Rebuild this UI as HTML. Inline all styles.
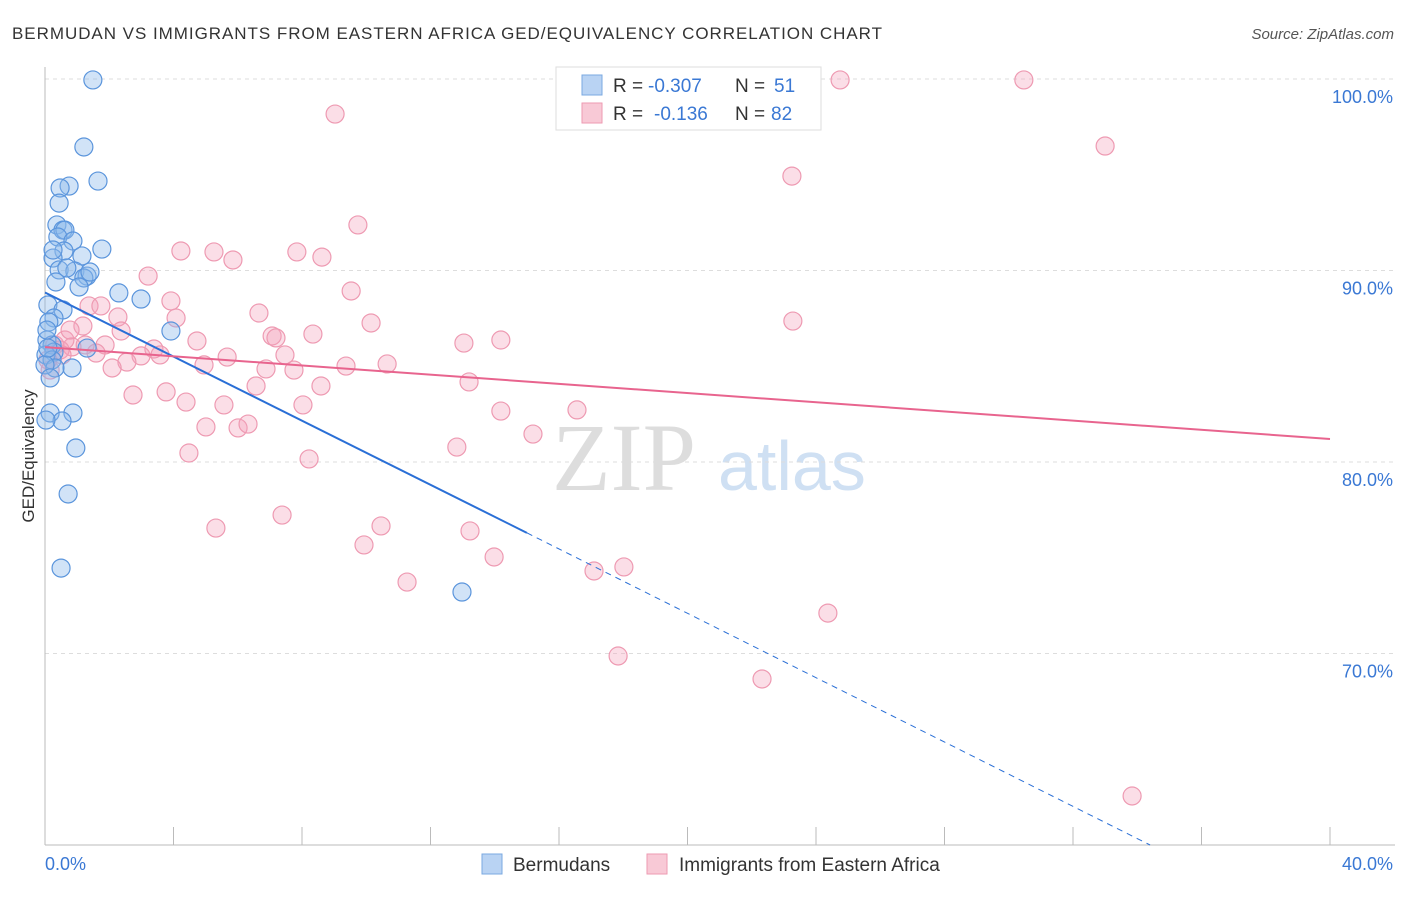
<!DOCTYPE html>
<html><head><meta charset="utf-8"><style>
body{margin:0;background:#fff;font-family:"Liberation Sans",sans-serif;}
svg text{font-family:"Liberation Sans",sans-serif;}
</style></head><body>
<svg id="chart" width="1406" height="892" xmlns="http://www.w3.org/2000/svg">
<text x="12" y="39" font-size="17" fill="#333" textLength="870" lengthAdjust="spacing">BERMUDAN VS IMMIGRANTS FROM EASTERN AFRICA GED/EQUIVALENCY CORRELATION CHART</text>
<text x="1394" y="39" font-size="15" fill="#555" text-anchor="end" font-style="italic">Source: ZipAtlas.com</text>
<text x="552" y="490" font-size="96" fill="#ddd" font-family="Liberation Serif" style="font-family:'Liberation Serif',serif">ZIP</text>
<text x="718" y="490" font-size="70" fill="#cfe0f3">atlas</text>
<g id="grid"></g>
<g id="ticks"></g>
<line x1="45" y1="67" x2="45" y2="845" stroke="#bbb"/>
<line x1="45" y1="845" x2="1395" y2="845" stroke="#bbb"/>
<text transform="translate(34,456) rotate(-90)" font-size="17" fill="#333" text-anchor="middle">GED/Equivalency</text>
<text x="45" y="870" font-size="18" fill="#3a78d4">0.0%</text>
<text x="1393" y="870" font-size="18" fill="#3a78d4" text-anchor="end">40.0%</text>
<g id="points"></g>
<g id="lines"></g>
<g>
<rect x="556" y="67" width="265" height="63" fill="#fff" stroke="#ddd"/>
<rect x="582" y="75" width="20" height="20" fill="#b9d3f3" stroke="#7aa8e0"/>
<rect x="582" y="103" width="20" height="20" fill="#f8c9d6" stroke="#ee9ab2"/>
<text x="613" y="92" font-size="19" fill="#333">R =</text>
<text x="648" y="92" font-size="19" fill="#3a78d4">-0.307</text>
<text x="735" y="92" font-size="19" fill="#333">N =</text>
<text x="774" y="92" font-size="19" fill="#3a78d4">51</text>
<text x="613" y="120" font-size="19" fill="#333">R =</text>
<text x="654" y="120" font-size="19" fill="#3a78d4">-0.136</text>
<text x="735" y="120" font-size="19" fill="#333">N =</text>
<text x="771" y="120" font-size="19" fill="#3a78d4">82</text>
</g>
<g>
<rect x="482" y="854" width="20" height="20" fill="#b9d3f3" stroke="#7aa8e0"/>
<text x="513" y="871" font-size="19" fill="#333">Bermudans</text>
<rect x="647" y="854" width="20" height="20" fill="#f8c9d6" stroke="#ee9ab2"/>
<text x="679" y="871" font-size="19" fill="#333">Immigrants from Eastern Africa</text>
</g>
</svg>
<script>
const yTicks=[100,90,80,70];
const xTickVals=[4,8,12,16,20,24,28,32,36,40];
const bluePx=[[93,80],[84,147],[98,181],[69,186],[60,188],[59,203],[57,225],[63,230],[65,230],[58,237],[73,241],[102,249],[64,251],[53,258],[82,256],[59,270],[75,271],[87,276],[84,278],[56,282],[79,287],[119,293],[141,299],[48,305],[63,310],[54,318],[49,322],[171,331],[47,340],[52,345],[54,352],[87,348],[46,355],[52,360],[72,368],[55,368],[45,365],[50,413],[73,413],[62,421],[46,420],[76,448],[68,494],[61,568],[462,592],[47,330],[50,378],[53,250],[67,268],[90,272],[48,348]];
const pinkPx=[[840,80],[1024,80],[335,114],[1105,146],[792,176],[358,225],[181,251],[214,252],[297,252],[322,257],[233,260],[148,276],[351,291],[171,301],[89,306],[101,306],[259,313],[118,317],[176,318],[793,321],[371,323],[83,326],[121,331],[197,341],[313,334],[272,336],[276,338],[464,343],[501,340],[105,345],[154,349],[72,347],[285,355],[227,357],[141,356],[96,353],[160,355],[204,365],[346,366],[387,364],[127,362],[112,368],[266,369],[294,370],[256,386],[321,386],[469,382],[166,392],[133,395],[186,402],[224,405],[303,405],[501,411],[577,410],[206,427],[238,428],[248,424],[533,434],[457,447],[189,453],[309,459],[282,515],[216,528],[381,526],[470,531],[364,545],[494,557],[407,582],[594,571],[624,567],[828,613],[618,656],[762,679],[1132,796],[55,345],[60,350],[65,340],[50,370],[70,330],[62,355],[48,360],[85,345]];
const blueX=bluePx.map(p=>+((p[0]-45)/32.125).toFixed(2));
const blueY=bluePx.map(p=>+(100-(p[1]-79)/19.15).toFixed(2));
const pinkX=pinkPx.map(p=>+((p[0]-45)/32.125).toFixed(2));
const pinkY=pinkPx.map(p=>+(100-(p[1]-79)/19.15).toFixed(2));
const blueTrend=[88.85,76.3,34.4,60.0];
const pinkTrend=[86.0,81.2];
const NS="http://www.w3.org/2000/svg";
const X=v=>45+v*32.125, Y=v=>79+(100-v)*19.15;
function mk(t,a,p){const e=document.createElementNS(NS,t);for(const k in a)e.setAttribute(k,a[k]);p.appendChild(e);return e;}
const grid=document.getElementById('grid'),ticks=document.getElementById('ticks');
yTicks.forEach(v=>{
 const l=mk('line',{x1:45,x2:1395,y1:Y(v),y2:Y(v),stroke:'#ddd','stroke-dasharray':'4,4'},grid);
 
 
 const t=mk('text',{x:1393,y:Y(v)+24,'font-size':18,fill:'#3a78d4','text-anchor':'end'},grid);
 t.textContent=v.toFixed(1)+'%';
 
 
});
xTickVals.forEach(v=>{
 const l=mk('line',{x1:X(v),x2:X(v),y1:827,y2:845,stroke:'#bbb'},ticks);
 
 
});
const pts=document.getElementById('points');
pinkX.forEach((x,i)=>{
 const c=mk('circle',{cx:X(x),cy:Y(pinkY[i]),r:9,fill:'rgba(244,160,185,0.35)',stroke:'#ee9ab2','stroke-width':1.2},pts);
 
 
});
blueX.forEach((x,i)=>{
 const c=mk('circle',{cx:X(x),cy:Y(blueY[i]),r:9,fill:'rgba(140,185,235,0.4)',stroke:'#5b95dc','stroke-width':1.2},pts);
 
 
});
const ln=document.getElementById('lines');
let e=mk('line',{x1:X(0),y1:Y(blueTrend[0]),x2:X(15),y2:Y(blueTrend[1]),stroke:'#2a6fd6','stroke-width':2},ln);


e=mk('line',{x1:X(15),y1:Y(blueTrend[1]),x2:X(blueTrend[2]),y2:Y(blueTrend[3]),stroke:'#2a6fd6','stroke-width':1,'stroke-dasharray':'6,5'},ln);


e=mk('line',{x1:X(0),y1:Y(pinkTrend[0]),x2:X(40),y2:Y(pinkTrend[1]),stroke:'#e8648e','stroke-width':2},ln);


</script>
</body></html>
